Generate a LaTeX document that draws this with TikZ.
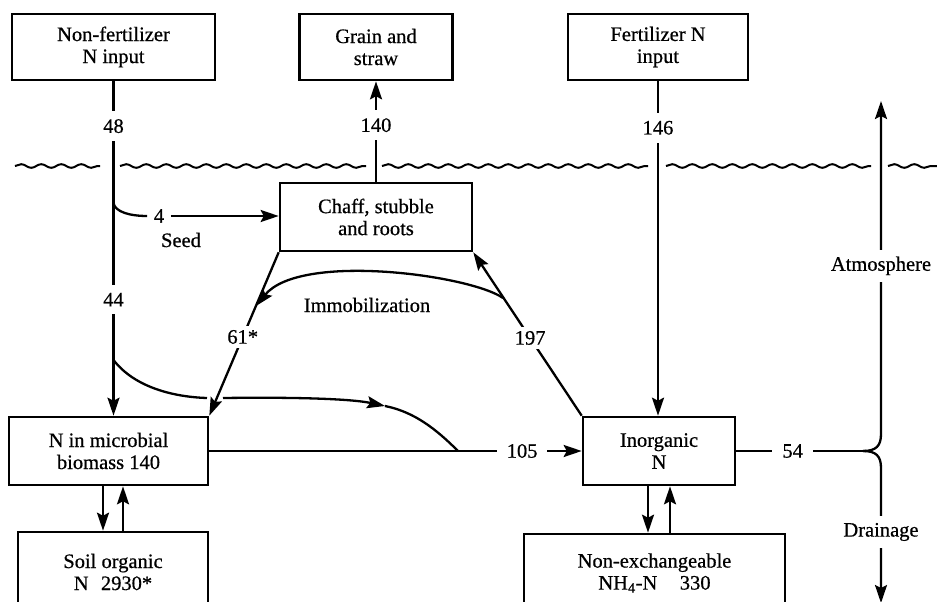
\documentclass[tikz,border=0pt]{standalone}
\usepackage{fontspec}
\setmainfont{Liberation Serif}[FakeBold=0.6]
\usetikzlibrary{arrows.meta,decorations.pathmorphing}
\begin{document}
\begin{tikzpicture}[x=1pt,y=-1pt,
  every node/.style={font=\fontsize{20.5}{22}\selectfont},
  box/.style={draw,line width=2.6pt,align=center,inner sep=0pt},
  flow/.style={line width=2.3pt},
  arr/.style={flow,-{Stealth[length=18pt,width=12pt,inset=3pt]}},
  vlbl/.style={fill=white,inner xsep=2pt,inner ysep=8pt},
  hlbl/.style={fill=white,inner xsep=10pt,inner ysep=2pt},
  slbl/.style={fill=white,inner sep=4pt},
  txt/.style={inner sep=1pt},
  wave/.style={line width=2pt,decorate,decoration={snake,segment length=20pt,amplitude=1.8pt}}
]
\clip (0,0) rectangle (937,602);
\fill[white] (0,0) rectangle (937,602);

% boxes
\node[box,minimum width=203pt,minimum height=66pt] (nonfert) at (113.5,47) {Non-fertilizer\\N input};
\node[box,minimum width=153pt,minimum height=66pt] (grain) at (376,47) {Grain and\\straw};
\node[box,minimum width=180pt,minimum height=66pt] (fert) at (658,47) {Fertilizer N\\input};
\node[box,minimum width=192pt,minimum height=68pt] (chaff) at (376,217) {Chaff, stubble\\and roots};
\node[box,minimum width=199pt,minimum height=68pt] (micro) at (108.5,451) {N in microbial\\biomass 140};
\node[box,minimum width=152pt,minimum height=68pt] (inorg) at (659,451) {Inorganic\\N};
\node[box,minimum width=190pt,minimum height=80pt] (soil) at (113,572) {Soil organic\\N\hspace{0.6em}2930*};
\node[box,minimum width=261pt,minimum height=78pt] (nonex) at (654.5,573) {Non-exchangeable\\NH\textsubscript{4}-N\hspace{1.1em}330};

% soil surface
\draw[wave] (15,166) -- (100,166);
\draw[wave] (120,166) -- (366,166);
\draw[wave] (382,166) -- (648,166);
\draw[wave] (666,166) -- (871,166);
\draw[wave] (888,166) -- (940,166);

% non-fertilizer input
\draw[arr] (nonfert.south) -- (nonfert.south |- micro.north)
  node[vlbl,pos=0.134] {48}
  node[vlbl,pos=0.653] {44};

% seed
\coordinate (sb) at (113.5,203);
\node[inner xsep=6.5pt,inner ysep=1pt] (n4) at (159,216) {4};
\draw[flow] (sb) .. controls (115,212) and (130,216) .. (n4.west);
\draw[arr] (n4.east) -- (n4.east -| chaff.west);
\node[txt] (seed) at (181,240) {Seed};

% harvest
\draw[arr] (chaff.north) -- (grain.south) node[vlbl,pos=0.563] {140};

% fertilizer
\draw[arr] (fert.south) -- (fert.south |- inorg.north) node[vlbl,pos=0.139] {146};

% uptake and immobilization
\draw[arr] (inorg.north west) -- (chaff.south east) node[slbl,pos=0.476] {197};
\draw[arr] (chaff.south west) -- (micro.north east) node[slbl,pos=0.518] {61*};
\coordinate (im1) at (503,298);
\coordinate (im2) at (256,306);
\draw[arr] (im1) .. controls (470,275) and (300,252) .. (im2);
\node[txt] (immob) at (367,305) {Immobilization};

% mineralization
\draw[arr] (micro.east) -- (inorg.west) node[hlbl,pos=0.84] {105};
\coordinate (c1) at (113.5,360);
\coordinate (c2) at (207,398);
\coordinate (c3) at (223,398);
\coordinate (c4) at (385,406);
\coordinate (c5) at (458,451);
\draw[flow] (c1) .. controls (135,388) and (175,397) .. (c2);
\draw[arr] (c3) .. controls (300,397) and (352,399) .. (c4);
\draw[flow] (c4) .. controls (415,412) and (437,430) .. (c5);

% losses
\coordinate (bp) at (863,451);
\draw[flow] (inorg.east) -- (bp) node[hlbl,pos=0.445] {54};
\draw[arr] (bp) .. controls (876,451) and (881,446) .. (881,434) -- (881,101)
  node[vlbl,inner ysep=7pt,pos=0.505] {Atmosphere};
\draw[arr] (bp) .. controls (876,451) and (881,456) .. (881,468) -- (881,603)
  node[vlbl,inner ysep=7pt,pos=0.474] {Drainage};

% exchanges with lower pools
\draw[arr] ([xshift=-10pt]soil.north |- micro.south) -- ([xshift=-10pt]soil.north);
\draw[arr] ([xshift=10pt]soil.north) -- ([xshift=10pt]soil.north |- micro.south);
\draw[arr] ([xshift=-11pt]inorg.south) -- ([xshift=-11pt]inorg.south |- nonex.north);
\draw[arr] ([xshift=11pt]inorg.south |- nonex.north) -- ([xshift=11pt]inorg.south);
\end{tikzpicture}
\end{document}
